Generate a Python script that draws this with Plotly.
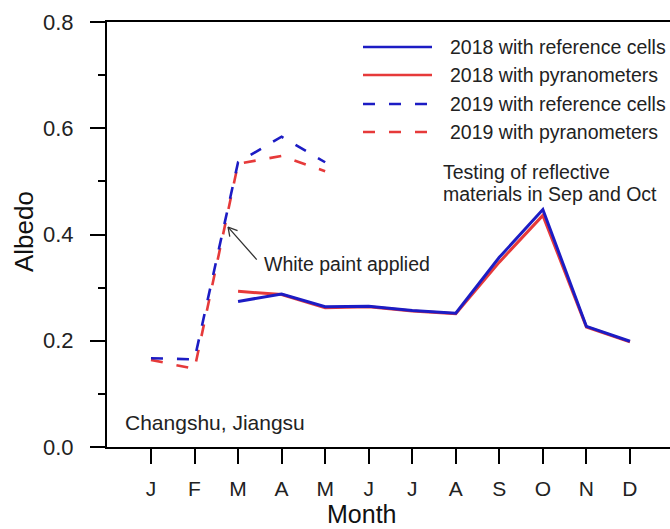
import plotly.graph_objects as go

# Monthly albedo, Changshu (Jiangsu)
months = ["J", "F", "M", "A", "M", "J", "J", "A", "S", "O", "N", "D"]
month_num = list(range(1, 13))

ref_2018 = [None, None, 0.274, 0.288, 0.264, 0.265, 0.257, 0.252, 0.357, 0.447, 0.227, 0.199]
pyr_2018 = [None, None, 0.293, 0.287, 0.262, 0.264, 0.256, 0.251, 0.348, 0.436, 0.226, 0.198]
ref_2019 = [0.167, 0.165, 0.536, 0.584, 0.536, None, None, None, None, None, None, None]
pyr_2019 = [0.164, 0.147, 0.533, 0.548, 0.519, None, None, None, None, None, None, None]

series_names = [
    "2018 with reference cells",
    "2018 with pyranometers",
    "2019 with reference cells",
    "2019 with pyranometers",
]

BLUE = "#1c1cc4"
RED = "#e63a3a"
FONT = "Liberation Sans, Arial, sans-serif"
DASH = "12px,14px"

fig = go.Figure()

fig.add_trace(go.Scatter(x=month_num, y=pyr_2018, mode="lines", name=series_names[1],
                         line=dict(color=RED, width=3)))
fig.add_trace(go.Scatter(x=month_num, y=ref_2018, mode="lines", name=series_names[0],
                         line=dict(color=BLUE, width=3)))
fig.add_trace(go.Scatter(x=month_num, y=pyr_2019, mode="lines", name=series_names[3],
                         line=dict(color=RED, width=2.6, dash=DASH)))
fig.add_trace(go.Scatter(x=month_num, y=ref_2019, mode="lines", name=series_names[2],
                         line=dict(color=BLUE, width=2.6, dash=DASH)))

# Hand-drawn legend (long line samples)
L, R_, T, B = 107, 670, 22, 447
pw, ph = R_ - L, B - T


def px(x):
    return (x - L) / pw


def py(y):
    return (B - y) / ph


legend_rows = [47, 75, 104, 132]
legend_styles = [(BLUE, "solid"), (RED, "solid"), (BLUE, DASH), (RED, DASH)]
shapes = []
annotations = []
for name, row, (col, dash) in zip(series_names, legend_rows, legend_styles):
    shapes.append(dict(type="line", xref="paper", yref="paper",
                       x0=px(363), x1=px(432), y0=py(row), y1=py(row),
                       line=dict(color=col, width=2.6, dash=dash)))
    annotations.append(dict(xref="paper", yref="paper", x=px(448), y=py(row),
                            text=name, showarrow=False, xanchor="left", yanchor="middle",
                            font=dict(family=FONT, size=19.5, color="#222")))

# Arrow pointing at the paint application
tip_x, tip_y = 2.77, 0.414
arrow_col = "#333"
for ax_off, ay_off in [(30, 34), (2, 11), (11, 4)]:
    annotations.append(dict(x=tip_x, y=tip_y, xref="x", yref="y", text="",
                            showarrow=True, arrowhead=0, arrowwidth=1.3,
                            arrowcolor=arrow_col, ax=ax_off, ay=ay_off, standoff=0))
annotations.append(dict(x=3.55, y=0.344, xref="x", yref="y", text="White paint applied",
                        showarrow=False, xanchor="left", yanchor="middle",
                        font=dict(family=FONT, size=19.5, color="#222")))

annotations.append(dict(x=7.65, y=(446.7 - 173) / 528.5, xref="x", yref="y",
                        text="Testing of reflective", showarrow=False,
                        xanchor="left", yanchor="middle",
                        font=dict(family=FONT, size=19.5, color="#222")))
annotations.append(dict(x=7.65, y=(446.7 - 195) / 528.5, xref="x", yref="y",
                        text="materials in Sep and Oct", showarrow=False,
                        xanchor="left", yanchor="middle",
                        font=dict(family=FONT, size=19.5, color="#222")))

annotations.append(dict(xref="paper", yref="paper", x=px(123), y=py(422),
                        text="Changshu, Jiangsu", showarrow=False,
                        xanchor="left", yanchor="middle",
                        font=dict(family=FONT, size=21, color="#222")))

# Axis titles
annotations.append(dict(xref="paper", yref="paper", x=px(361), y=py(514),
                        text="Month", showarrow=False, xanchor="center", yanchor="middle",
                        font=dict(family=FONT, size=25, color="#111")))
annotations.append(dict(xref="paper", yref="paper", x=px(24), y=py(232),
                        text="Albedo", showarrow=False, textangle=-90,
                        xanchor="center", yanchor="middle",
                        font=dict(family=FONT, size=26, color="#111")))

fig.update_layout(
    width=670, height=529,
    margin=dict(l=L, r=0, t=T, b=529 - B, pad=0),
    paper_bgcolor="white", plot_bgcolor="white",
    showlegend=False,
    font=dict(family=FONT, color="#222"),
    shapes=shapes,
    annotations=annotations,
)

fig.update_xaxes(
    range=[-0.01, 12.92], tickvals=month_num, ticktext=months,
    showgrid=False, zeroline=False,
    showline=True, linecolor="black", linewidth=2, mirror=True,
    ticks="outside", ticklen=15, tickwidth=2, tickcolor="black",
    tickfont=dict(family=FONT, size=21, color="#222"),
    ticklabelstandoff=7,
)
fig.update_yaxes(
    range=[0, 0.8], tickvals=[0, 0.2, 0.4, 0.6, 0.8], tickformat=".1f",
    showgrid=False, zeroline=False,
    showline=True, linecolor="black", linewidth=2, mirror=False,
    ticks="outside", ticklen=15, tickwidth=2, tickcolor="black",
    tickfont=dict(family=FONT, size=22, color="#222"),
    ticklabelstandoff=12,
    minor=dict(tickvals=[0.1, 0.3, 0.5, 0.7], ticks="outside", ticklen=7,
               tickwidth=2, tickcolor="black", showgrid=False),
)

fig.write_html("out.html")
